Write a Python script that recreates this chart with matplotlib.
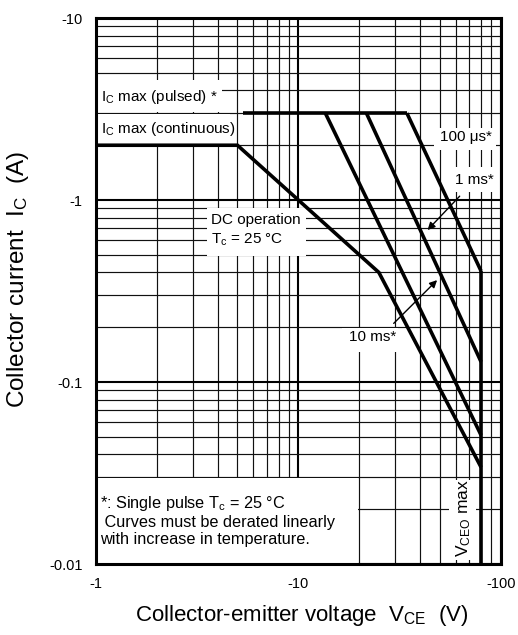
import matplotlib
matplotlib.use("Agg")
import numpy as np
import matplotlib.pyplot as plt
from matplotlib.patches import Rectangle
from matplotlib.ticker import LogLocator, NullFormatter

# ---- safe operating area data (V_CE in volts, I_C in amperes) ----
dc_v = [-1, -5, -25, -80]
dc_i = [-2, -2, -0.4, -0.034]

pulsed_max_v = [-5.3, -34.4]
pulsed_max_i = [-3, -3]

pulse_100us_v = [-34.4, -80]
pulse_100us_i = [-3, -0.407]

pulse_1ms_v = [-21.7, -80]
pulse_1ms_i = [-3, -0.129]

pulse_10ms_v = [-13.6, -80]
pulse_10ms_i = [-3, -0.051]

vceo_v = [-80, -80]
vceo_i = [-0.407, -0.01]

x_ticks = [-1, -10, -100]
x_tick_labels = ["-1", "-10", "-100"]
y_ticks = [-0.01, -0.1, -1, -10]
y_tick_labels = ["-0.01", "-0.1", "-1", "-10"]

plt.rcParams["font.family"] = ["Liberation Sans", "DejaVu Sans"]
plt.rcParams["mathtext.fontset"] = "custom"
plt.rcParams["mathtext.rm"] = "Liberation Sans"
plt.rcParams["mathtext.it"] = "Liberation Sans:italic"
plt.rcParams["mathtext.default"] = "regular"


def mag(a):
    # the axes are drawn on log scales of the magnitude; labels carry the sign
    return np.abs(np.asarray(a, dtype=float))


fig = plt.figure(figsize=(5.18, 6.35), dpi=100)
ax = fig.add_axes([0.1853, 0.1118, 0.7813, 0.8598])
ax.set_xscale("log")
ax.set_yscale("log")
ax.set_xlim(1, 100)
ax.set_ylim(0.01, 10)

ax.set_xticks(mag(x_ticks))
ax.set_xticklabels(x_tick_labels)
ax.set_yticks(mag(y_ticks))
ax.set_yticklabels(y_tick_labels)
ax.xaxis.set_minor_locator(LogLocator(base=10, subs=np.arange(2, 10)))
ax.yaxis.set_minor_locator(LogLocator(base=10, subs=np.arange(2, 10)))
ax.xaxis.set_minor_formatter(NullFormatter())
ax.yaxis.set_minor_formatter(NullFormatter())
ax.tick_params(which="both", length=0, labelsize=10.5)
ax.tick_params(axis="x", pad=9)
ax.tick_params(axis="y", pad=9.5)

ax.set_axisbelow(True)
ax.grid(True, which="major", color="black", lw=1.5)
ax.grid(True, which="minor", color="#111111", lw=0.85)
for s in ax.spines.values():
    s.set_linewidth(2.2)
    s.set_zorder(5)

# white panels that keep the labels clear of the grid
panels = [
    ((1.0, 3.05), (4.2, 4.55)),     # I_C max (pulsed)
    ((1.0, 2.04), (4.6, 2.96)),     # I_C max (continuous)
    ((3.55, 0.49), (10.9, 0.9)),    # DC operation
    ((46.6, 1.88), (94.5, 2.49)),   # 100 us
    ((56.5, 1.107), (94.5, 1.52)),  # 1 ms
    ((16.5, 0.146), (31.0, 0.199)), # 10 ms
    ((55.4, 0.0105), (75.2, 0.029)),# V_CEO max
    ((1.0, 0.01), (19.8, 0.0297)),  # footnote
]
for (x0, y0), (x1, y1) in panels:
    ax.add_patch(Rectangle((x0, y0), x1 - x0, y1 - y0, facecolor="white",
                           edgecolor="none", zorder=1))

line_kw = dict(color="black", lw=2.6, zorder=3, solid_joinstyle="miter",
               solid_capstyle="butt")
ax.plot(mag(dc_v), mag(dc_i), **line_kw)
ax.plot(mag(pulsed_max_v), mag(pulsed_max_i), **line_kw)
ax.plot(mag(pulse_100us_v), mag(pulse_100us_i), **line_kw)
ax.plot(mag(pulse_1ms_v), mag(pulse_1ms_i), **line_kw)
ax.plot(mag(pulse_10ms_v), mag(pulse_10ms_i), **line_kw)
ax.plot(mag(vceo_v), mag(vceo_i), **line_kw)

fs = 11
ax.text(1.059, 3.68, r"I$_\mathrm{C}$ max (pulsed) *", fontsize=fs,
        va="center", ha="left", zorder=4)
ax.text(1.059, 2.45, r"I$_\mathrm{C}$ max (continuous)", fontsize=fs,
        va="center", ha="left", zorder=4)
ax.text(3.71, 0.776, "DC operation", fontsize=fs, va="center", ha="left",
        zorder=4)
ax.text(3.71, 0.603, r"T$_\mathrm{c}$ = 25 °C", fontsize=fs, va="center",
        ha="left", zorder=4)
ax.text(67.1, 2.22, "100 μs*", fontsize=fs, va="center", ha="center",
        zorder=4)
ax.text(74.4, 1.29, "1 ms*", fontsize=fs, va="center", ha="center", zorder=4)
ax.text(23.3, 0.177, "10 ms*", fontsize=fs, va="center", ha="center",
        zorder=4)
ax.text(65.6, 0.0179, r"V$_\mathrm{CEO}$ max", fontsize=12.5, va="center",
        ha="center", rotation=90, zorder=4)

fn = 11.7
ax.text(1.047, 0.0216, r"*: Single pulse T$_\mathrm{c}$ = 25 °C",
        fontsize=fn, va="center", ha="left", zorder=4)
ax.text(1.047, 0.0170, " Curves must be derated linearly", fontsize=fn,
        va="center", ha="left", zorder=4)
ax.text(1.047, 0.01355, "with increase in temperature.", fontsize=fn,
        va="center", ha="left", zorder=4)

arrow_kw = dict(arrowstyle="-|>", color="black", lw=1.0, mutation_scale=11,
                shrinkA=0, shrinkB=0)
ax.annotate("", xy=(43.5, 0.684), xytext=(62.7, 1.05),
            arrowprops=arrow_kw, zorder=4)
ax.annotate("", xy=(48.5, 0.363), xytext=(29.6, 0.210),
            arrowprops=arrow_kw, zorder=4)

ax.set_xlabel(r"Collector-emitter voltage  V$_\mathrm{CE}$  (V)",
              fontsize=16)
ax.xaxis.set_label_coords(0.509, -0.0934)
ax.xaxis.label.set_verticalalignment("center")
ax.set_ylabel(r"Collector current  I$_\mathrm{C}$  (A)", fontsize=17.5)
ax.yaxis.set_label_coords(-0.1915, 0.522)
ax.yaxis.label.set_verticalalignment("center")

fig.savefig("out.png", dpi=100, facecolor="white")
